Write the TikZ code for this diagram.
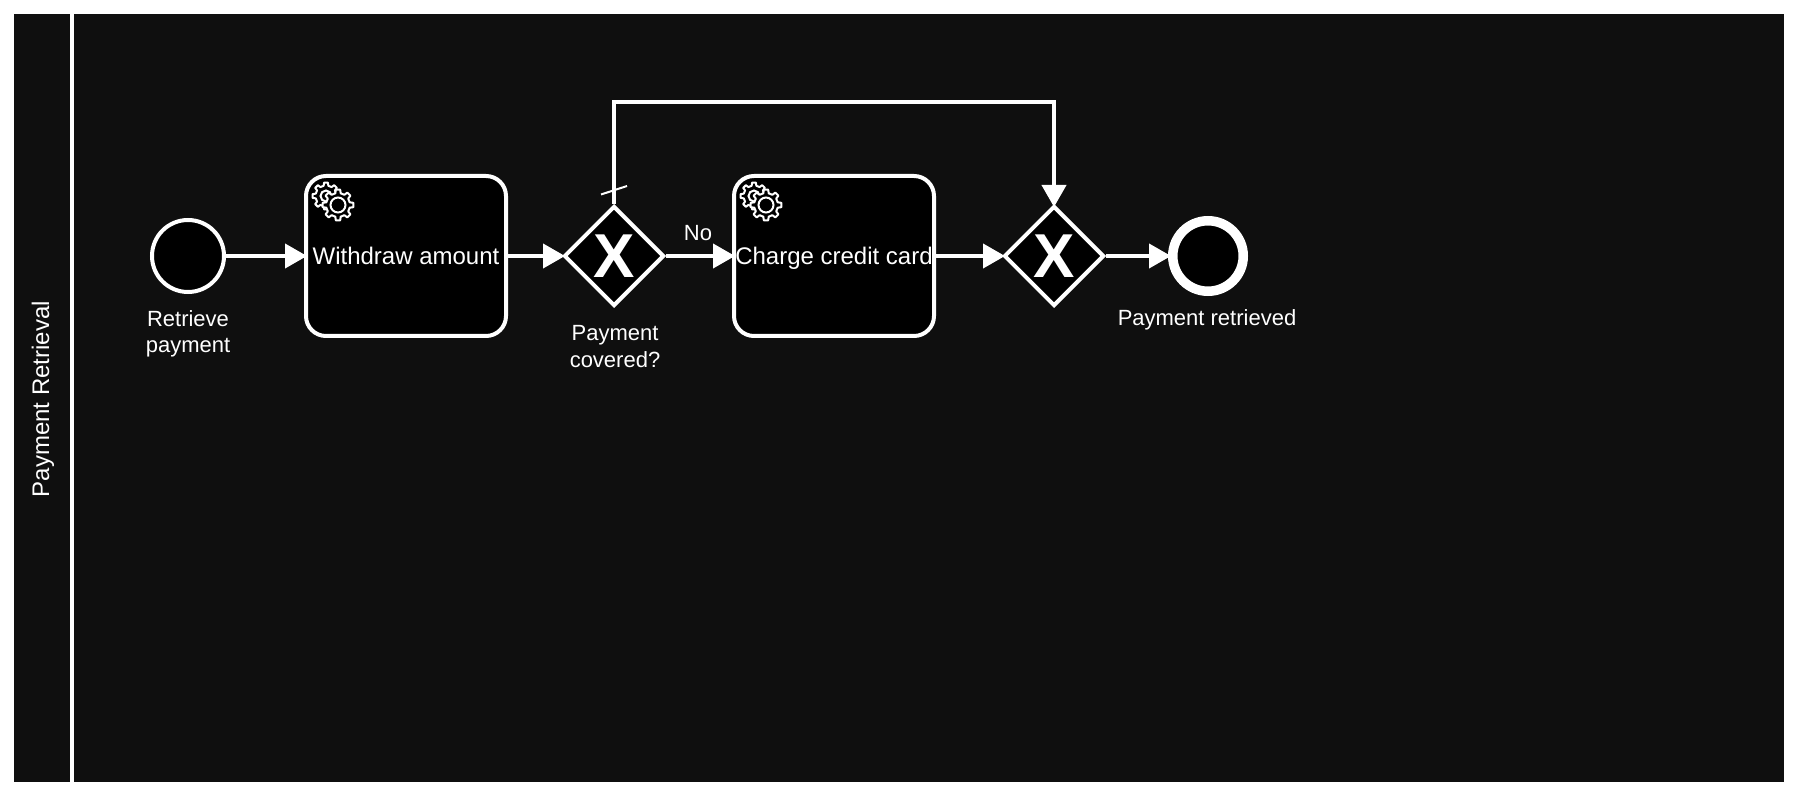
\documentclass[tikz,border=0pt]{standalone}
\usepackage{fontspec}
\setmainfont{Liberation Sans}
\usetikzlibrary{arrows.meta,shapes.geometric,calc}
\definecolor{poolbg}{HTML}{0F0F0F}
\tikzset{
    flow/.style={draw=white,line width=2pt,shorten >=-1.5pt,-{Triangle[length=11pt,width=12pt]}},
    task/.style={draw=white,fill=black,line width=2pt,rounded corners=10pt,minimum width=100pt,minimum height=80pt,inner sep=0pt,text=white,text height=8.75pt,text depth=0pt,font=\fontsize{12}{14}\selectfont},
    gateway/.style={diamond,draw=white,fill=black,line width=2pt,minimum width=50pt,minimum height=50pt,inner sep=0pt,text=white,font=\fontsize{31}{31}\selectfont\bfseries},
    startev/.style={circle,draw=white,fill=black,line width=2pt,minimum size=36pt,inner sep=0pt},
    endev/.style={circle,draw=white,fill=black,line width=4.75pt,minimum size=35.25pt,inner sep=0pt},
    lbl/.style={text=white,align=center,inner sep=0pt,font=\fontsize{11}{13.2}\selectfont},
    gearicon/.pic={
        \foreach \r/\cx/\cy/\o/\i/\h in {1/-12/-9/13.5/10.5/5.5,2/0/0/15.5/12/7.5}
        {
            \draw[white,fill=black,line width=1pt,line join=round] (\cx,\cy) ++(-13:\i)
                \foreach \a in {0,45,...,315}
                { -- ($(\cx,\cy)+(\a-13:\i)$) -- ($(\cx,\cy)+(\a-8:\o)$) -- ($(\cx,\cy)+(\a+8:\o)$) -- ($(\cx,\cy)+(\a+13:\i)$) }
                -- cycle;
            \draw[white,line width=1pt] (\cx,\cy) circle [radius=\h];
        }
    }
}
\begin{document}
\begin{tikzpicture}[x=0.5pt,y=-0.5pt]
    \useasboundingbox (0,0) rectangle (1798,796);
    \fill[white] (0,0) rectangle (1798,796);
    \fill[poolbg] (14,14) rectangle (1784,782);
    \draw[white,line width=2pt] (72,14) -- (72,782);
    \node[rotate=90,text=white,inner sep=0pt,font=\fontsize{12}{14}\selectfont] (poolname) at (43,399) {Payment Retrieval};

    \node[startev] (retrieve) at (188,256) {};
    \node[task] (withdraw) at (406,256) {Withdraw amount};
    \node[gateway] (covered) at (614,256) {X};
    \node[task] (charge) at (834,256) {Charge credit card};
    \node[gateway] (merge) at (1054,256) {X};
    \node[endev] (retrieved) at (1208,256) {};

    \pic at (338,205) {gearicon};
    \pic at (766,205) {gearicon};

    \node[lbl] (retrievelbl) at (188,334) {Retrieve\\payment};
    \node[lbl] (coveredlbl) at (615,346.5) {Payment\\covered?};
    \node[lbl] (retrievedlbl) at (1207,320) {Payment retrieved};
    \node[lbl] (nolbl) at (698,233) {No};

    \draw[flow] (retrieve) -- (withdraw);
    \draw[flow] (withdraw) -- (covered);
    \draw[flow] (covered) -- (charge);
    \draw[flow] (charge) -- (merge);
    \draw[flow] (merge) -- (retrieved);
    \draw[flow] (covered.north) -- ++(0,-102) -| (merge.north);

    \coordinate (tickA) at (601,194.5);
    \coordinate (tickB) at (627,186);
    \draw[white,line width=1pt] (tickA) -- (tickB);
\end{tikzpicture}
\end{document}
